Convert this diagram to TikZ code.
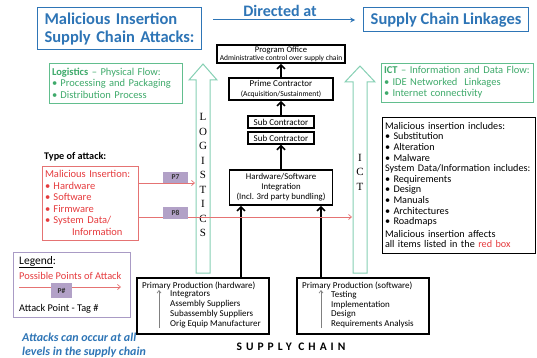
\documentclass[tikz,border=0pt]{standalone}
\usepackage{fontspec}
\setmainfont{Carlito}
\newfontfamily\letterfont{Liberation Serif}
\newfontfamily\spacedfont[LetterSpace=35]{Carlito}
\usetikzlibrary{calc,arrows.meta}
\definecolor{ttblue}{HTML}{2E75B6}
\definecolor{ttgreen}{HTML}{3FAA6B}
\definecolor{boxgreen}{HTML}{62BE8E}
\definecolor{flowteal}{HTML}{86D0B4}
\definecolor{attred}{HTML}{E63B3E}
\definecolor{attline}{HTML}{E57373}
\definecolor{tagpurple}{HTML}{B2A1C7}
\definecolor{legendgray}{HTML}{A99BC5}
\newcommand{\fs}[2]{\fontsize{#1}{#2}\selectfont}
\newcommand{\bul}{\makebox[8.5pt][l]{\textbullet}}
\begin{document}
\begin{tikzpicture}[x=1pt,y=-1pt,
	chainbox/.style={draw,line width=1.6pt,fill=white,align=center,inner sep=0pt},
	titlebox/.style={draw=ttblue,line width=1pt,text=ttblue,font=\bfseries\fs{16.5}{18},inner xsep=7pt,inner ysep=0pt},
	greenbox/.style={draw=boxgreen,line width=0.8pt,fill=white,text=ttgreen,align=left,font=\fs{10.5}{11.6},inner xsep=3pt,inner ysep=0pt},
	flowarrow/.style={draw=flowteal,line width=1pt,fill=white},
	upflow/.style={line width=1.6pt,-{Straight Barb[length=4pt,width=8pt]}},
	attackline/.style={attline,line width=0.7pt,-{Straight Barb[length=3pt,width=5pt]}},
	ptag/.style={fill=tagpurple,font=\bfseries\fs{7.5}{8},inner sep=0pt,text=black!80},
	prodtext/.style={font=\fs{9}{9.7},inner sep=0pt,align=left}]
	\fill[white] (0,0) rectangle (537,358);
	\useasboundingbox (0,0) rectangle (537,358);
	% heading
	\node[titlebox,text width=150,align=left,minimum height=42] (title) at (119.5,29) {Malicious Insertion\\Supply Chain Attacks:};
	\node[titlebox,minimum width=162,minimum height=24] (links) at (446,20) {Supply Chain Linkages};
	\node[text=ttblue,font=\bfseries\fs{16}{18}] (directed) at (280,11) {Directed at};
	\coordinate (dirfrom) at (213,20);
	\draw[ttblue,line width=1pt,-{Stealth[length=5pt,width=5pt]}] (dirfrom) -- ([xshift=-8pt]links.west);
	% flows
	\draw[flowarrow] (196,273) -- (196,80) -- (189,80) -- (203,64) -- (217,80) -- (210,80) -- (210,273) -- cycle;
	\draw[flowarrow] (353,273) -- (353,82) -- (345,82) -- (360,66) -- (375,82) -- (367,82) -- (367,273) -- cycle;
	\node[font=\letterfont\fs{11}{14.5},align=center,inner sep=0pt] (logletters) at (203,175) {L\\O\\G\\I\\S\\T\\I\\C\\S};
	\node[font=\letterfont\fs{11}{14.5},align=center,inner sep=0pt] (ictletters) at (360,172) {I\\C\\T};
	\node[greenbox,text width=127,minimum height=40] (logbox) at (115.5,83) {\textbf{Logistics} -- Physical Flow:\\\bul Processing and Packaging\\\bul Distribution Process};
	\node[greenbox,text width=146,minimum height=39] (ictbox) at (457,82.5) {\textbf{ICT} -- Information and Data Flow:\\\bul IDE Networked\ \ Linkages\\\bul Internet connectivity};
	% supply chain
	\node[chainbox,minimum width=128,minimum height=18,font=\fs{8.6}{8.6}] (office) at (281,54) {Program Office\\\fs{7.5}{8}Administrative control over supply chain};
	\node[chainbox,minimum width=104,minimum height=22,font=\fs{9}{9.5}] (prime) at (281,89) {Prime Contractor\\\fs{7.6}{8}(Acquisition/Sustainment)};
	\node[chainbox,line width=1.3pt,minimum width=66,minimum height=12,font=\fs{9}{9}] (subup) at (281,122) {Sub Contractor};
	\node[chainbox,line width=1.3pt,minimum width=66,minimum height=12,font=\fs{9}{9}] (sublow) at (281,138) {Sub Contractor};
	\node[chainbox,minimum width=103,minimum height=35,font=\fs{8.8}{10}] (integ) at (281,187.5) {Hardware/Software\\Integration\\(Incl. 3rd party bundling)};
	\node[chainbox,minimum width=132,minimum height=56] (hwprod) at (203,306) {};
	\node[chainbox,minimum width=132,minimum height=56] (swprod) at (363,306) {};
	\draw[upflow] (prime) -- (office);
	\draw[upflow] (subup) -- (prime);
	\draw[upflow] (integ) -- (sublow);
	\draw[upflow] ($(hwprod.north)+(38,0)$) -- ($(integ.south)+(-40,0)$);
	\draw[upflow] ($(swprod.north)+(-42,0)$) -- ($(integ.south)+(40,0)$);
	\node[prodtext,anchor=west] (hwhead) at (142,286) {Primary Production (hardware)};
	\node[prodtext,anchor=north west] (hwlist) at (170,291) {Integrators\\Assembly Suppliers\\Subassembly Suppliers\\Orig Equip Manufacturer};
	\node[prodtext,anchor=west] (swhead) at (302,286) {Primary Production (software)};
	\node[prodtext,anchor=north west] (swlist) at (331,291) {Testing\\Implementation\\Design\\Requirements Analysis};
	\draw[gray,line width=0.7pt,-{Straight Barb[length=2.5pt,width=4pt]}] (159,328) -- (159,290);
	\draw[gray,line width=0.7pt,-{Straight Barb[length=2.5pt,width=4pt]}] (321,328) -- (321,290);
	\node[font=\spacedfont\bfseries\fs{11.5}{12}] (chainlabel) at (291,347) {SUPPLY CHAIN};
	% attacks
	\node[draw,line width=0.6pt,text width=147,align=left,inner xsep=3pt,minimum height=136,font=\fs{10.2}{10.6}] (includes) at (458.5,185) {Malicious insertion includes:\\\bul Substitution\\\bul Alteration\\\bul Malware\\System Data/Information includes:\\\bul Requirements\\\bul Design\\\bul Manuals\\\bul Architectures\\\bul Roadmaps\\[2pt]Malicious insertion affects\\all items listed in the \textcolor{attred}{red box}};
	\node[anchor=west,font=\bfseries\fs{10.2}{11},inner sep=0pt] (type) at (44,157) {Type of attack:};
	\node[draw=attline,line width=0.8pt,text=attred,text width=90,align=left,inner xsep=3pt,minimum height=74,font=\fs{10.5}{11.5}] (attack) at (90,203) {Malicious Insertion:\\\bul Hardware\\\bul Software\\\bul Firmware\\\bul System Data/\\\hspace*{27pt}Information};
	\coordinate (p7end) at (195,183);
	\coordinate (p8end) at (352,217);
	\draw[attackline] (attack.east |- p7end) -- (p7end);
	\draw[attackline] (attack.east |- p8end) -- (p8end);
	\node[ptag,minimum width=25,minimum height=11] (p7) at (175.5,177.5) {P7};
	\node[ptag,minimum width=25,minimum height=12] (p8) at (175.5,213) {P8};
	% legend
	\node[draw=legendgray,line width=0.8pt,minimum width=117,minimum height=65] (legend) at (71.5,284.5) {};
	\node[anchor=west,font=\fs{11.5}{12},inner sep=0pt] (legtitle) at (19,262) {\underline{Legend}:};
	\node[anchor=west,text=attred,font=\fs{10.4}{11},inner sep=0pt] (legposs) at (19,276) {Possible Points of Attack};
	\coordinate (legfrom) at (19,287);
	\coordinate (legto) at (121,287);
	\draw[attackline] (legfrom) -- (legto);
	\node[ptag,minimum width=21,minimum height=15] (ptag) at (61.5,290.5) {P\#};
	\node[anchor=west,font=\fs{10.3}{11},inner sep=0pt] (legtag) at (19,309) {Attack Point - Tag \#};
	\node[anchor=north west,text=ttblue,font=\bfseries\itshape\fs{12}{14},align=left,inner sep=0pt] (note) at (22,333) {Attacks can occur at all\\levels in the supply chain};
\end{tikzpicture}
\end{document}
